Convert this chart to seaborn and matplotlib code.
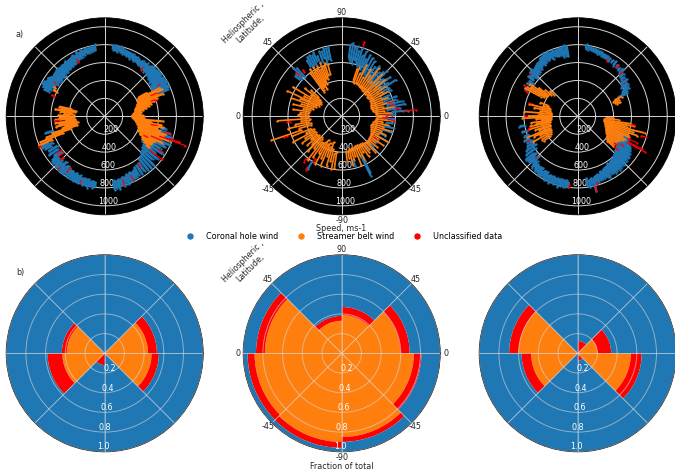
import numpy as np
import pandas as pd
import matplotlib
matplotlib.use("Agg")
import matplotlib.pyplot as plt
import seaborn as sns
from matplotlib.lines import Line2D

# streaks: (angle on the dial in degrees, low speed, high speed)
a1_coronal = [
    (83, 750, 800), (81, 745, 810), (79, 730, 790), (77, 740, 800), (75, 725, 790), (73, 730, 780),
    (71, 715, 775), (69, 720, 770), (67, 700, 765), (65, 710, 770), (63, 695, 755), (61, 705, 760),
    (59, 690, 750), (57, 680, 740), (55, 690, 760), (53, 670, 745), (51, 675, 760), (49, 660, 750),
    (47, 670, 770), (45, 650, 780), (43, 660, 770), (41, 640, 785), (39, 650, 780), (37, 625, 790),
    (35, 640, 770), (33, 610, 790), (31, 620, 780), (29, 600, 800), (27, 610, 780), (25, 640, 790),
    (23, 660, 770), (-12, 640, 700), (-15, 600, 760), (-18, 610, 790), (-21, 560, 780), (-24, 530, 800),
    (-27, 540, 760), (-30, 520, 720), (-33, 500, 770), (-36, 530, 700), (-39, 540, 760), (-42, 560, 720),
    (-45, 570, 780), (-48, 590, 780), (-51, 610, 770), (-54, 640, 760), (-57, 650, 770), (-60, 660, 760),
    (-62, 680, 770), (-64, 690, 770), (-66, 680, 790), (-68, 700, 780), (-70, 690, 800), (-72, 710, 790),
    (-74, 700, 810), (-76, 720, 790), (-78, 720, 830), (-80, 730, 810), (-82, 720, 830),
    (98, 745, 810), (100, 740, 790), (102, 735, 800), (104, 725, 785), (106, 730, 795), (108, 715, 775),
    (110, 710, 790), (112, 700, 770), (114, 695, 790), (116, 690, 760), (118, 680, 770), (120, 670, 760),
    (122, 660, 755), (124, 665, 750), (126, 650, 760), (128, 660, 745), (130, 640, 750), (132, 650, 740),
    (134, 630, 745), (136, 625, 750), (138, 640, 740), (140, 620, 740), (142, 630, 735), (144, 640, 750),
    (146, 630, 770), (148, 650, 760), (150, 640, 780), (152, 660, 790), (154, 670, 770), (156, 680, 740),
    (205, 700, 780), (207, 650, 790), (209, 680, 760), (212, 620, 740), (215, 640, 760), (218, 650, 720),
    (220, 620, 770), (222, 690, 780), (224, 700, 770), (226, 680, 790), (228, 700, 780), (230, 660, 800),
    (232, 710, 790), (234, 680, 800), (236, 700, 780), (238, 710, 800), (240, 700, 790), (242, 720, 790),
    (244, 700, 810), (246, 720, 800), (248, 710, 800), (250, 730, 790), (252, 720, 810), (254, 730, 800),
    (256, 720, 820), (258, 740, 800), (260, 730, 810), (262, 740, 790),
    (196, 600, 690),
]
a1_streamer = [
    (29, 430, 540), (27, 420, 700), (25, 400, 720), (23, 400, 640), (21, 390, 700), (19, 380, 620),
    (17, 370, 580), (15, 360, 540), (13, 350, 510), (11, 340, 470), (9, 340, 430), (7, 330, 410),
    (5, 320, 400), (3, 310, 400), (1, 310, 440), (-1, 310, 420), (-3, 320, 440), (-5, 330, 650),
    (-7, 340, 520), (-9, 350, 640), (-11, 360, 680), (-13, 370, 600), (-15, 380, 650), (-17, 390, 720),
    (-19, 400, 700), (-21, 410, 770), (-23, 410, 680), (-25, 430, 720), (-27, 440, 640), (-29, 470, 620),
    (-31, 490, 620), (-33, 520, 600), (-35, 560, 620),
    (153, 600, 640), (150, 640, 660), (172, 340, 560), (170, 330, 500), (168, 380, 520), (174, 380, 500),
    (177, 340, 460), (179, 400, 520), (182, 340, 510), (184, 360, 560), (186, 330, 440), (188, 340, 560),
    (190, 320, 520), (192, 310, 560), (194, 330, 460), (196, 330, 500), (198, 320, 620), (200, 400, 700),
    (202, 500, 780), (204, 640, 800),
]
a1_unclass = [
    (-20, 650, 960), (-19, 760, 880), (-15, 680, 760), (-23, 560, 680), (24, 560, 640), (18, 540, 600),
    (-32, 690, 760), (-37, 620, 800), (-55, 640, 700), (-66, 720, 780), (-74, 730, 800), (-10, 520, 600),
    (-26, 480, 540), (158, 610, 640), (185, 500, 560), (205, 780, 810), (218, 620, 680), (221, 630, 690),
    (225, 660, 700), (229, 750, 790), (236, 700, 760), (250, 760, 790), (52, 660, 700), (116, 680, 720),
    (146, 650, 690), (30, 680, 720),
]

a2_coronal = [
    (83, 650, 810), (81, 620, 830), (79, 600, 790), (77, 640, 800), (75, 620, 760), (73, 590, 800),
    (71, 600, 720), (69, 560, 780), (67, 600, 700), (65, 520, 760), (62, 540, 740), (59, 500, 720),
    (56, 520, 670), (53, 480, 700), (50, 500, 640), (47, 480, 680), (45, 450, 720), (42, 500, 620),
    (39, 470, 700), (36, 520, 640), (34, 470, 730), (31, 540, 620), (28, 480, 620), (24, 500, 580),
    (20, 500, 650), (17, 480, 640), (14, 520, 700), (11, 500, 720), (8, 510, 660), (5, 560, 740),
    (2, 500, 600), (-3, 500, 590), (-8, 500, 570), (-13, 480, 600), (-18, 470, 580), (-24, 460, 530),
    (-29, 440, 560), (-36, 430, 490), (-44, 420, 480), (-52, 400, 470), (-64, 480, 740), (-63, 500, 700),
    (-75, 500, 570), (237, 600, 700),
    (101, 640, 800), (103, 660, 780), (105, 620, 790), (107, 680, 760), (109, 640, 770), (112, 660, 730),
    (114, 680, 780), (116, 650, 760), (118, 650, 770), (120, 640, 770), (122, 660, 740),
    (133, 600, 740), (135, 640, 770), (137, 610, 700), (139, 630, 690),
]
a2_streamer = [
    (72, 420, 560), (70, 400, 590), (67, 420, 520), (64, 400, 640), (61, 390, 500), (58, 380, 620),
    (55, 380, 560), (52, 370, 680), (49, 370, 520), (46, 370, 660), (43, 360, 580), (40, 370, 640),
    (37, 360, 550), (34, 360, 600), (31, 370, 530), (28, 360, 590), (25, 360, 480), (22, 350, 560),
    (19, 350, 480), (16, 340, 600), (13, 350, 470), (10, 350, 590), (7, 370, 480), (4, 380, 550),
    (1, 390, 500), (-2, 390, 490), (-5, 380, 560), (-8, 370, 460), (-11, 360, 540), (-14, 350, 480),
    (-17, 340, 570), (-20, 350, 470), (-23, 360, 530), (-26, 370, 450), (-29, 380, 590), (-32, 380, 480),
    (-35, 390, 560), (-38, 390, 470), (-41, 400, 520), (-44, 400, 460), (-47, 400, 540), (-50, 390, 470),
    (-53, 380, 500), (-56, 370, 540), (-59, 370, 470), (-62, 360, 560), (-65, 360, 500), (-68, 370, 590),
    (-71, 370, 470), (-74, 380, 510), (-77, 380, 560), (-80, 390, 470), (-83, 390, 500),
    (262, 400, 580), (259, 420, 600), (256, 380, 520), (253, 300, 580), (250, 360, 470), (247, 320, 600),
    (244, 350, 520), (241, 300, 610), (238, 340, 480), (235, 370, 560), (232, 360, 620), (229, 340, 470),
    (226, 320, 540), (223, 340, 450), (220, 330, 500), (217, 340, 430), (214, 350, 530), (211, 340, 480),
    (208, 350, 620), (205, 340, 440), (202, 370, 600), (199, 480, 830), (196, 360, 500), (193, 350, 620),
    (190, 380, 530), (187, 370, 460), (184, 360, 720), (181, 380, 450), (178, 380, 490), (175, 380, 470),
    (172, 370, 550), (169, 360, 440), (166, 330, 560), (163, 340, 470), (160, 300, 600), (157, 310, 500),
    (155, 280, 670), (152, 290, 480), (149, 270, 640), (146, 280, 420), (143, 300, 520),
    (140, 340, 450), (126, 340, 600), (124, 360, 640), (122, 380, 580), (120, 400, 630), (118, 340, 600),
    (116, 420, 620), (114, 400, 580), (112, 460, 640), (110, 440, 600), (108, 480, 620), (105, 490, 600),
]
a2_unclass = [
    (5, 690, 830), (8, 600, 650), (12, 560, 600), (1, 500, 560), (-4, 510, 570), (-2, 450, 500),
    (16, 530, 600), (73, 830, 870), (236, 680, 720), (136, 650, 710), (130, 650, 680), (230, 620, 660),
    (238, 560, 600), (-33, 420, 470), (186, 580, 610), (200, 650, 680),
]

a3_coronal = [
    (83, 760, 810), (81, 755, 790), (79, 750, 790), (77, 745, 785), (75, 740, 780), (73, 730, 770),
    (71, 735, 770), (69, 725, 765), (67, 720, 760), (65, 715, 755), (63, 710, 750), (61, 700, 745),
    (58, 710, 740), (55, 690, 750), (52, 700, 730), (49, 680, 720), (46, 670, 740), (43, 640, 700),
    (40, 630, 680), (37, 600, 690), (35, 610, 660), (33, 580, 670), (31, 600, 650), (29, 570, 650),
    (27, 560, 620), (25, 500, 610),
    (99, 680, 800), (101, 690, 810), (103, 680, 800), (105, 710, 790), (107, 700, 790), (109, 710, 780),
    (111, 720, 790), (113, 690, 780), (115, 720, 800), (117, 700, 790), (119, 710, 810), (121, 690, 780),
    (123, 680, 780), (125, 690, 750), (127, 660, 750), (129, 670, 740), (131, 650, 730), (133, 640, 720),
    (135, 650, 740), (137, 620, 730), (139, 660, 700), (141, 640, 710), (144, 610, 670), (147, 650, 680),
    (152, 620, 670),
    (190, 600, 660), (196, 590, 650), (201, 580, 640), (205, 600, 660), (208, 570, 640), (211, 580, 660),
    (214, 560, 690), (217, 590, 720), (220, 640, 760), (222, 620, 740), (224, 650, 740), (226, 620, 720),
    (228, 670, 770), (230, 690, 750), (232, 700, 780), (234, 700, 770), (236, 690, 790), (238, 720, 790),
    (240, 700, 780), (242, 710, 800), (244, 730, 790), (246, 720, 810), (248, 720, 790), (250, 730, 810),
    (252, 720, 790), (254, 730, 820), (256, 720, 800), (258, 730, 810), (260, 720, 805), (262, 740, 800),
    (278, 700, 790), (280, 720, 800), (282, 700, 780), (284, 710, 860), (286, 690, 790), (288, 680, 770),
    (290, 690, 760), (292, 660, 760), (294, 670, 750), (296, 650, 760), (298, 640, 770), (300, 640, 740),
    (302, 620, 750), (304, 630, 760), (306, 620, 750), (308, 600, 760), (310, 610, 750), (312, 600, 740),
    (314, 590, 750), (316, 580, 730), (318, 560, 740), (320, 560, 730), (322, 550, 730), (324, 540, 720),
    (326, 540, 700), (328, 520, 690), (330, 500, 680), (332, 500, 640), (335, 480, 620), (338, 470, 580),
]
a3_streamer = [
    (24, 450, 540), (22, 430, 500), (20, 440, 480), (18, 460, 500),
    (152, 470, 670), (150, 430, 660), (148, 420, 620), (146, 410, 650), (144, 410, 540), (141, 380, 470),
    (138, 360, 420), (160, 350, 450), (163, 330, 400), (166, 320, 560), (169, 310, 500), (172, 300, 420),
    (175, 300, 600), (178, 300, 440), (180, 300, 560), (182, 300, 620), (184, 310, 470), (186, 300, 400),
    (188, 310, 530), (190, 320, 470), (192, 320, 540), (195, 330, 560), (198, 330, 500), (200, 330, 460),
    (203, 340, 620), (205, 340, 540), (207, 340, 470), (210, 340, 580), (213, 360, 480), (216, 380, 460),
    (-8, 300, 600), (-10, 300, 640), (-12, 310, 560), (-14, 310, 770), (-16, 320, 640), (-18, 330, 700),
    (-20, 330, 600), (-22, 340, 620), (-24, 340, 560), (-26, 350, 600), (-28, 360, 590), (-30, 370, 560),
    (-32, 380, 540), (-34, 390, 520), (-36, 400, 540), (-38, 410, 510), (-40, 430, 520),
    (-5, 300, 460), (-3, 320, 400),
]
a3_unclass = [
    (-17, 740, 800), (-9, 600, 640), (-28, 620, 850), (-27, 640, 810), (-24, 620, 720), (-33, 560, 620),
    (-40, 540, 600), (-36, 500, 560), (-74, 760, 790), (284, 800, 860), (263, 760, 800), (154, 630, 660),
    (180, 570, 590), (194, 540, 570), (207, 600, 630), (138, 690, 720), (62, 700, 730), (52, 700, 730),
    (45, 670, 700), (35, 620, 650), (150, 660, 690), (225, 640, 670), (165, 530, 560),
]

# stacked fractions per 45 degree sector, starting at angle 0
sector_left = [0, 45, 90, 135, 180, 225, 270, 315]
b1_streamer = [0.44, 0.0, 0.0, 0.385, 0.43, 0.0, 0.0, 0.476]
b1_unclass = [0.09, 0.0, 0.0, 0.05, 0.15, 0.12, 0.0, 0.074]
b1_coronal = [0.47, 1.0, 1.0, 0.565, 0.42, 0.88, 1.0, 0.45]
b2_streamer = [0.595, 0.39, 0.33, 0.78, 0.885, 0.90, 0.85, 0.733]
b2_unclass = [0.095, 0.08, 0.05, 0.09, 0.071, 0.06, 0.05, 0.077]
b2_coronal = [0.31, 0.53, 0.62, 0.13, 0.044, 0.04, 0.10, 0.19]
b3_streamer = [0.20, 0.0, 0.0, 0.60, 0.473, 0.0, 0.0, 0.54]
b3_unclass = [0.14, 0.125, 0.0, 0.096, 0.097, 0.0, 0.075, 0.11]
b3_coronal = [0.66, 0.875, 1.0, 0.304, 0.43, 1.0, 0.925, 0.35]

speed_ticks = [200, 400, 600, 800, 1000]
fraction_ticks = [0.2, 0.4, 0.6, 0.8, 1.0]
angle_ticks = [0, 45, 90, 135, 180, 225, 270, 315]
angle_labels = ["0", "45", "90", "45", "0", "-45", "-90", "-45"]
legend_labels = ["Coronal hole wind", "Streamer belt wind", "Unclassified data"]

pal = sns.color_palette("tab10")
col_ch, col_sb, col_un = pal[0], pal[1], (1.0, 0.0, 0.0)
fs = 5.8
W, H = 675, 475


def polar_ax(fig, cx, cy, r=98.5):
    return fig.add_axes([(cx - r) / W, 1 - (cy + r) / H, 2 * r / W, 2 * r / H], projection="polar")


def draw_streaks(ax, rows, color, lw):
    df = pd.DataFrame(rows, columns=["angle", "low", "high"])
    df["theta"] = np.deg2rad(df["angle"] % 360)
    ax.vlines(df["theta"], df["low"], df["high"], color=color, lw=lw)
    ends = df.melt(id_vars="theta", value_vars=["low", "high"], value_name="speed")
    sns.scatterplot(data=ends, x="theta", y="speed", color=color, s=3, linewidth=0, ax=ax, legend=False)


def style_ax(ax, rmax, ticks, labels, show_angles, grid_alpha):
    ax.set_xlabel("")
    ax.set_ylabel("")
    ax.set_ylim(0, rmax)
    ax.set_rgrids(ticks, labels, color="white", fontsize=fs)
    ax.set_rlabel_position(265.5)
    ax.set_thetagrids(angle_ticks, angle_labels if show_angles else [""] * 8, fontsize=fs, color="#262626")
    ax.tick_params(axis="x", pad=-6.5)
    ax.grid(True, color="#d8d8d8", lw=0.7, alpha=grid_alpha)
    for s in ax.spines.values():
        s.set_linewidth(0.6)


fig = plt.figure(figsize=(6.75, 4.75), dpi=100)

centers = [104.7, 341.7, 577.7]
top_sets = [(a1_coronal, a1_streamer, a1_unclass), (a2_coronal, a2_streamer, a2_unclass), (a3_coronal, a3_streamer, a3_unclass)]
bottom_sets = [(b1_streamer, b1_unclass, b1_coronal), (b2_streamer, b2_unclass, b2_coronal), (b3_streamer, b3_unclass, b3_coronal)]
coronal_lw = [2.0, 1.5, 1.9]
streamer_lw = [1.6, 1.2, 1.3]

for i, cx in enumerate(centers):
    ax = polar_ax(fig, cx, 116.3)
    ax.set_facecolor("black")
    ax.set_axisbelow(True)
    ch, sb, un = top_sets[i]
    draw_streaks(ax, ch, col_ch, coronal_lw[i])
    draw_streaks(ax, sb, col_sb, streamer_lw[i])
    draw_streaks(ax, un, col_un, 0.9)
    style_ax(ax, 1100, speed_ticks, [str(t) for t in speed_ticks], i == 1, 1.0)

    ax = polar_ax(fig, cx, 353.3)
    sb, un, ch = bottom_sets[i]
    th = np.deg2rad(sector_left)
    w = np.deg2rad(45)
    sb, un, ch = np.array(sb), np.array(un), np.array(ch)
    ax.bar(th, sb, width=w, align="edge", color=col_sb, linewidth=0)
    ax.bar(th, un, width=w, bottom=sb, align="edge", color=col_un, linewidth=0)
    ax.bar(th, ch, width=w, bottom=sb + un, align="edge", color=col_ch, linewidth=0)
    ax.set_axisbelow(False)
    style_ax(ax, 1.0, fraction_ticks, [f"{t:.1f}" for t in fraction_ticks], i == 1, 0.6)

fig.text(20 / W, 1 - 35 / H, "a)", fontsize=fs, color="#262626", ha="center", va="center")
fig.text(20 / W, 1 - 272 / H, "b)", fontsize=fs, color="#262626", ha="center", va="center")
fig.text(341.5 / W, 1 - 228.5 / H, "Speed, ms-1", fontsize=fs, color="#262626", ha="center", va="center")
fig.text(341.5 / W, 1 - 466.5 / H, "Fraction of total", fontsize=fs, color="#262626", ha="center", va="center")
for y in (26, 265):
    fig.text(247 / W, 1 - y / H, "Heliospheric ,\nLatitude,", fontsize=fs, color="#262626",
             rotation=45, ha="center", va="center", linespacing=1.1)

handles = [Line2D([], [], ls="", marker="o", ms=3.6, color=c) for c in (col_ch, col_sb, col_un)]
fig.legend(handles, legend_labels, ncol=3, frameon=False, fontsize=fs, loc="center",
           bbox_to_anchor=(342 / W, 1 - 236.5 / H), columnspacing=1.85, handletextpad=0.95, borderpad=0)

fig.savefig("out.png", dpi=100)
